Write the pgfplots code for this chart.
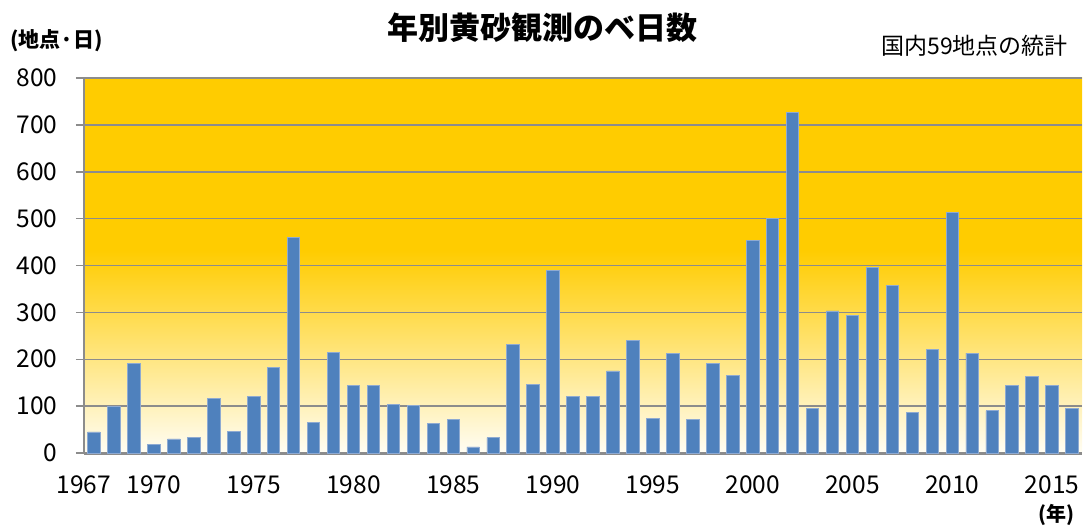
\documentclass[border=0pt]{standalone}
\usepackage{pgfplots}
\pgfplotsset{compat=1.18}
\usepackage{fontspec}
\setmainfont{Noto Sans CJK JP}
\definecolor{bgbot}{HTML}{FFFDF4}
\definecolor{bgtop}{HTML}{FFCC00}
\definecolor{barc}{HTML}{4F81BD}
\definecolor{barline}{HTML}{8EAAD2}
\definecolor{gridc}{HTML}{8C8C8C}
\pgfdeclareverticalshading{bgshade}{100bp}{color(0bp)=(bgbot); color(25bp)=(bgbot); color(52bp)=(bgtop); color(100bp)=(bgtop)}
\begin{document}
\begin{tikzpicture}[x=1pt,y=1pt]
\useasboundingbox (-84,-75) rectangle (1002,453);
\begin{axis}[
  at={(0,0)}, anchor=south west,
  scale only axis, width=998pt, height=375pt,
  xmin=1966.5, xmax=2016.5, ymin=0, ymax=800,
  ytick={0,100,...,800},
  xtick={1966.5,1970,1975,1980,1985,1990,1995,2000,2005,2010,2015},
  xticklabels={1967,1970,1975,1980,1985,1990,1995,2000,2005,2010,2015},
  axis background/.style={shading=bgshade},
  ymajorgrids, grid style={draw=gridc, line width=1.5pt},
  axis x line*=bottom, axis y line*=left,
  x axis line style={draw=gridc, line width=3pt, -},
  y axis line style={draw=gridc, line width=1.5pt, -},
  xtick style={draw=none},
  ytick style={draw=gridc, line width=1.5pt},
  tick align=outside, major tick length=8pt,
  /pgf/number format/assume math mode=true,
  tick label style={font=\fontsize{24.5}{24.5}\selectfont},
  yticklabel style={xshift=-15pt},
  xticklabel style={yshift=-11pt},
  ybar, bar width=12.5pt,
  clip=false,
]
\addplot[fill=barc, draw=barline, line width=0.8pt] coordinates {
(1967,45) (1968,99) (1969,191) (1970,19) (1971,30) (1972,33) (1973,117) (1974,46)
(1975,120) (1976,183) (1977,459) (1978,65) (1979,215) (1980,144) (1981,144)
(1982,104) (1983,101) (1984,63) (1985,71) (1986,13) (1987,33) (1988,232)
(1989,147) (1990,390) (1991,120) (1992,120) (1993,175) (1994,240) (1995,74)
(1996,213) (1997,71) (1998,191) (1999,166) (2000,453) (2001,500) (2002,727)
(2003,95) (2004,303) (2005,294) (2006,395) (2007,357) (2008,87) (2009,221)
(2010,513) (2011,213) (2012,90) (2013,144) (2014,164) (2015,144) (2016,95)
};
\end{axis}
\node[font=\fontsize{31}{31}\selectfont\bfseries] at (458,425) {年別黄砂観測のベ日数};
\node[font=\fontsize{21}{21}\selectfont\bfseries, anchor=west, inner sep=0pt] at (-74,412) {(地点·日)};
\node[font=\fontsize{23}{23}\selectfont, anchor=east, inner sep=0pt] at (984,407) {国内59地点の統計};
\node[font=\fontsize{20}{20}\selectfont\bfseries, anchor=east, inner sep=0pt] at (991,-62) {(年)};
\end{tikzpicture}
\end{document}
